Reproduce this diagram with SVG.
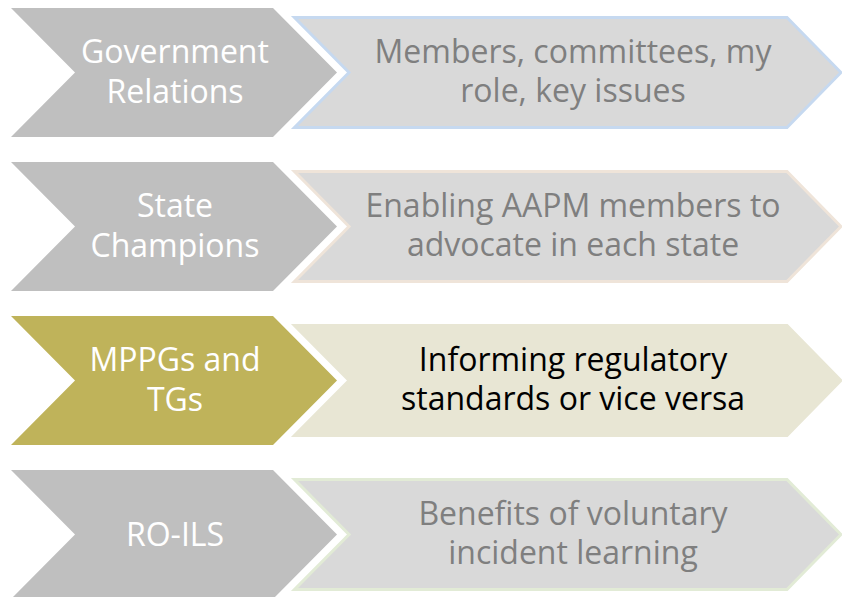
<svg xmlns="http://www.w3.org/2000/svg" width="842" height="597" viewBox="0 0 842 597">
<defs>
<path id="chev" d="M11,0 L273,0 L337,64.5 L273,129 L11,129 L75,64.5 Z"/>
<path id="pent" d="M294.5,9.5 L787,9.5 L841,64.5 L787,119.5 L294.5,119.5 L349,64.5 Z"/>
</defs>
<style>
.t{font-family:"Open Sans","Liberation Sans",sans-serif;font-size:32px;text-anchor:middle}
.lt{fill:#ffffff}
.rt{fill:#7f7f7f}
.dk{fill:#000000}
.gray{fill:#bfbfbf}
.pg{fill:#d9d9d9;stroke-width:3;stroke-linejoin:miter}
</style>
<rect width="842" height="597" fill="#ffffff"/>
<g id="row1" transform="translate(0,8)">
<g id="n1a"><use href="#chev" class="gray"/><text class="t lt" x="175" y="55">Government</text><text class="t lt" x="175" y="95">Relations</text></g>
<g id="n1b"><use href="#pent" class="pg" stroke="#c6d9f0"/><text class="t rt" x="573" y="55">Members, committees, my</text><text class="t rt" x="573" y="94">role, key issues</text></g>
</g>
<g id="row2" transform="translate(0,162)">
<g id="n2a"><use href="#chev" class="gray"/><text class="t lt" x="175" y="55">State</text><text class="t lt" x="175" y="95">Champions</text></g>
<g id="n2b"><use href="#pent" class="pg" stroke="#efe4d9"/><text class="t rt" x="573" y="55">Enabling AAPM members to</text><text class="t rt" x="573" y="94">advocate in each state</text></g>
</g>
<g id="row3" transform="translate(0,316)">
<g id="n3a"><use href="#chev" fill="#bfb35a"/><text class="t lt" x="175" y="55">MPPGs and</text><text class="t lt" x="175" y="95">TGs</text></g>
<g id="n3b"><use href="#pent" class="pg" fill="#e8e6d4" stroke="#e8e6d4" style="fill:#e8e6d4"/><text class="t dk" x="573" y="55">Informing regulatory</text><text class="t dk" x="573" y="94">standards or vice versa</text></g>
</g>
<g id="row4" transform="translate(0,470)">
<g id="n4a"><use href="#chev" class="gray"/><text class="t lt" x="175" y="76">RO-ILS</text></g>
<g id="n4b"><use href="#pent" class="pg" stroke="#e2ebd6"/><text class="t rt" x="573" y="55">Benefits of voluntary</text><text class="t rt" x="573" y="94">incident learning</text></g>
</g>
<g id="connectors"/>
</svg>
